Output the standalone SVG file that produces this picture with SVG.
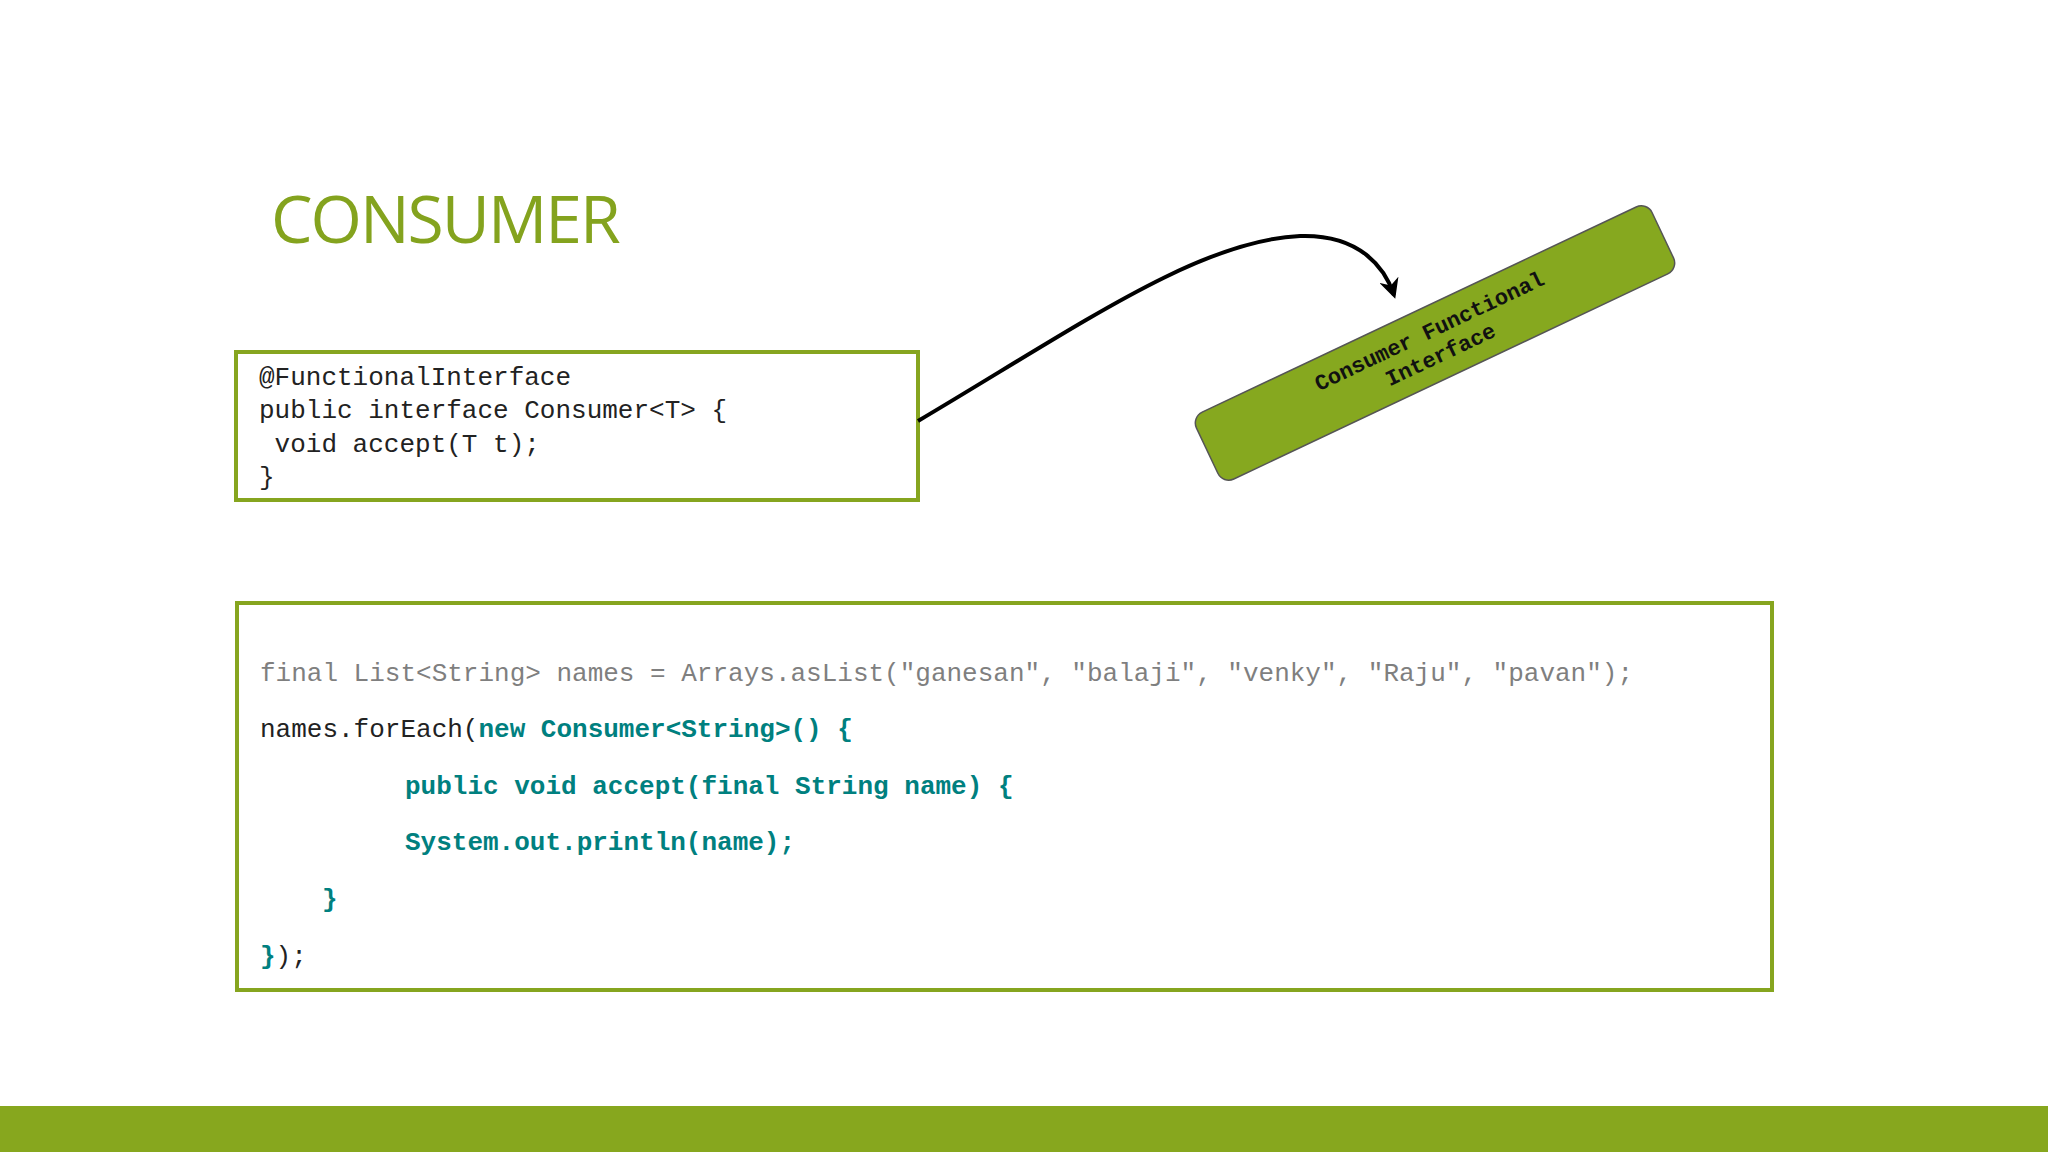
<svg xmlns="http://www.w3.org/2000/svg" width="2048" height="1152" viewBox="0 0 2048 1152">
<style>
.box{fill:#fff;stroke:#86a51f;stroke-width:4}
.mono{font-family:"Liberation Mono",monospace;font-size:26px}
.k{fill:#222}
.g{fill:#7f7f7f}
.t{fill:#00807f;font-weight:bold}
</style>
<defs>
<marker id="ah" viewBox="0 0 10 10" refX="8" refY="5" markerWidth="5" markerHeight="5" orient="auto"><path d="M0,0 L10,5 L0,10 L3,5 Z" fill="#000"/></marker>
</defs>
<rect width="2048" height="1152" fill="#fff"/>
<text x="271" y="243" font-family="Open Sans, sans-serif" font-size="66" fill="#84a31e" letter-spacing="-2">CONSUMER</text>
<g id="iface">
<rect class="box" x="236" y="352" width="682" height="148"/>
<text class="mono k" font-size="27"><tspan x="259" y="385">@FunctionalInterface</tspan><tspan x="259" y="418">public interface Consumer&lt;T&gt; {</tspan><tspan x="259" y="452">    void accept(T t);</tspan><tspan x="259" y="485">}</tspan></text>
</g>
<g id="code">
<rect class="box" x="237" y="603" width="1535" height="387"/>
<text class="mono g" x="260" y="681">final List&lt;String&gt; names = Arrays.asList("ganesan", "balaji", "venky", "Raju", "pavan");</text>
<text class="mono k" x="260" y="737">names.forEach(<tspan class="t">new Consumer&lt;String&gt;() {</tspan></text>
<text class="mono t" x="405" y="794">public void accept(final String name) {</text>
<text class="mono t" x="405" y="850">System.out.println(name);</text>
<text class="mono t" x="322" y="907">}</text>
<text class="mono k" x="260" y="964"><tspan class="t">}</tspan>);</text>
</g>
<g id="label" transform="translate(1435,343) rotate(-25.3)">
<rect x="-252" y="-37" width="504" height="74" rx="12" fill="#86a81f" stroke="#555" stroke-width="1.5"/>
<text font-family="Liberation Mono, monospace" font-size="22" font-weight="bold" fill="#111" text-anchor="middle"><tspan x="0" y="-6">Consumer Functional</tspan><tspan x="0" y="20">Interface</tspan></text>
</g>
<g id="connectors">
<path d="M918,421 C1080,325 1200,240 1300,236 C1360,234 1385,268 1394,295" fill="none" stroke="#000" stroke-width="4" marker-end="url(#ah)"/>
</g>
<rect x="0" y="1106" width="2048" height="46" fill="#87a71e"/>
</svg>
